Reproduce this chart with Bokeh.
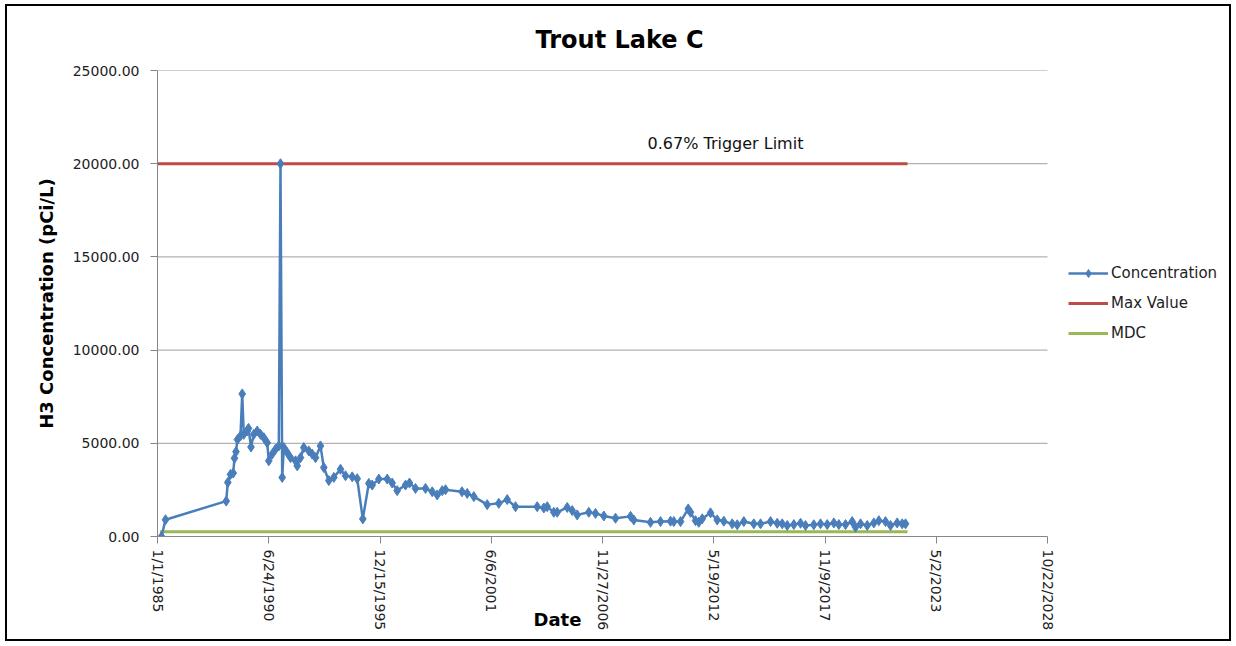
import math
import pandas as pd
from bokeh.plotting import figure
from bokeh.layouts import column
from bokeh.models import (FixedTicker, NumeralTickFormatter, Legend, LegendItem, Label,
                          Range1d, Title)
from bokeh.embed import file_html
from bokeh.resources import INLINE

# ---------------- data ----------------
dates = [
    "1985-03-14", "1985-05-25", "1988-05-20", "1988-06-18", "1988-08-05", "1988-09-23",
    "1988-10-16", "1988-11-12", "1988-12-09", "1989-02-01", "1989-03-04", "1989-04-01",
    "1989-06-02", "1989-06-25", "1989-08-09", "1989-09-28", "1989-11-28", "1990-01-27",
    "1990-03-27", "1990-05-27", "1990-06-25", "1990-08-25", "1990-10-23", "1990-12-22",
    "1991-01-21", "1991-02-21", "1991-03-22", "1991-05-22", "1991-07-20", "1991-10-18",
    "1991-11-18", "1992-01-16", "1992-03-15", "1992-06-13", "1992-08-13", "1992-10-12",
    "1993-01-09", "1993-03-10", "1993-06-08", "1993-09-06", "1994-01-04", "1994-04-04",
    "1994-08-02", "1994-10-31", "1995-02-09", "1995-05-28", "1995-07-28", "1995-11-24",
    "1996-04-23", "1996-07-21", "1996-10-19", "1997-03-18", "1997-05-28", "1997-09-13",
    "1998-03-12", "1998-07-11", "1998-10-08", "1999-01-06", "1999-03-07", "1999-12-28",
    "2000-03-31", "2000-07-28", "2001-03-25", "2001-10-20", "2002-03-20", "2002-08-16",
    "2003-09-10", "2004-01-07", "2004-03-08", "2004-07-05", "2004-09-04", "2005-03-03",
    "2005-06-01", "2005-08-29", "2006-03-26", "2006-07-24", "2006-12-21", "2007-07-19",
    "2008-04-14", "2008-06-12", "2009-04-08", "2009-10-05", "2010-04-03", "2010-06-01",
    "2010-09-30", "2011-02-15", "2011-03-28", "2011-06-26", "2011-08-24", "2011-10-25",
    "2012-03-22", "2012-07-20", "2012-11-16", "2013-04-16", "2013-07-15", "2013-11-11",
    "2014-05-09", "2014-09-07", "2015-03-06", "2015-07-04", "2015-10-02", "2015-12-31",
    "2016-04-28", "2016-08-26", "2016-11-24", "2017-04-22", "2017-08-20", "2017-12-19",
    "2018-04-17", "2018-07-16", "2018-11-13", "2019-03-13", "2019-05-12", "2019-08-10",
    "2019-12-08", "2020-04-05", "2020-07-04", "2020-11-01", "2021-01-30", "2021-05-30",
    "2021-08-28", "2021-10-27",
]
concentration = [
    0, 900, 1900, 2900, 3330, 3400,
    4200, 4550, 5200, 5400, 7650, 5480,
    5660, 5800, 4800, 5480, 5660, 5480,
    5300, 5030, 4060, 4420, 4680, 4860,
    20000, 3170, 4770, 4500, 4230, 4060,
    3790, 4230, 4770, 4590, 4420, 4230,
    4860, 3700, 3000, 3170, 3610, 3260,
    3200, 3100, 945, 2850, 2760, 3080,
    3080, 2870, 2460, 2760, 2870, 2580,
    2580, 2400, 2230, 2460, 2510, 2400,
    2310, 2140, 1710, 1780, 1980, 1600,
    1600, 1530, 1600, 1300, 1300, 1560,
    1390, 1160, 1300, 1240, 1100, 980,
    1080, 890, 760, 800, 820, 800,
    800, 1480, 1300, 850, 760, 950,
    1270, 890, 820, 680, 630, 800,
    680, 680, 800, 710, 680, 590,
    640, 710, 590, 630, 680, 640,
    730, 640, 640, 800, 500, 680,
    590, 730, 850, 800, 590, 730,
    680, 680,
]
max_dates = ["1985-01-01", "2021-12-01"]
max_values = [20000, 20000]
mdc_dates = ["1985-02-15", "2021-12-01"]
mdc_values = [250, 250]

tick_labels = ["1/1/1985", "6/24/1990", "12/15/1995", "6/6/2001", "11/27/2006",
               "5/19/2012", "11/9/2017", "5/2/2023", "10/22/2028"]
tick_days = [0, 2000, 4000, 6000, 8000, 10000, 12000, 14000, 16000]
y_ticks = [0, 5000, 10000, 15000, 20000, 25000]

trigger_text = "0.67% Trigger Limit"
trigger_date = "2012-12-16"
trigger_value = 21100

origin = pd.Timestamp("1985-01-01")
def to_days(ds):
    return [(pd.Timestamp(d) - origin).days for d in ds]

x_conc = to_days(dates)
x_max = to_days(max_dates)
x_mdc = to_days(mdc_dates)

FONT = "DejaVu Sans"
BLUE = "#4A7EBB"
RED = "#BE4B48"
GREEN = "#98B954"
AXIS = "#868686"
GRID = "#A0A0A0"

# figure sits inside a bordered box; plot axes span 0..16000 days, the frame
# continues to the right to host the legend
W, H = 1222, 633
frame_px = 1070           # frame width in px (axis part is 890 px)
x_axis_end = tick_days[-1]
x_end = x_axis_end * frame_px / 890

p = figure(width=W, height=H, output_backend="svg", toolbar_location=None,
           x_range=Range1d(0, x_end), y_range=Range1d(0, 25000),
           min_border_left=150, min_border_right=W - 150 - frame_px, min_border_top=64,
           min_border_bottom=103, background_fill_color="white",
           border_fill_color="white")
p.outline_line_color = None

# title
p.title.text = "Trout Lake C"
p.title.text_font = FONT
p.title.text_font_size = "24px"
p.title.text_font_style = "bold"
p.title.text_color = "black"
p.title.align = "left"
p.title.offset = 378
p.title.standoff = 34

# axes
p.xaxis.ticker = FixedTicker(ticks=tick_days)
p.xaxis.major_label_overrides = {d: l for d, l in zip(tick_days, tick_labels)}
p.xaxis.major_label_orientation = -math.pi / 2
p.xaxis.bounds = (0, x_axis_end)
p.yaxis.ticker = FixedTicker(ticks=y_ticks)
p.yaxis.formatter = NumeralTickFormatter(format="0.00")
for ax in (p.xaxis, p.yaxis):
    ax.axis_line_color = AXIS
    ax.major_tick_line_color = AXIS
    ax.minor_tick_line_color = None
    ax.major_tick_out = 7
    ax.major_tick_in = 0
    ax.major_label_text_font = FONT
    ax.major_label_text_font_size = "14px"
    ax.major_label_text_color = "#222222"
p.xaxis.major_label_standoff = 6
p.yaxis.major_label_standoff = 11
p.yaxis.axis_label = "H3 Concentration (pCi/L)"
p.yaxis.axis_label_text_font = FONT
p.yaxis.axis_label_text_font_size = "18px"
p.yaxis.axis_label_text_font_style = "bold"
p.yaxis.axis_label_text_color = "black"
p.yaxis.axis_label_standoff = 13

date_title = Title(text="Date", align="left", offset=376, standoff=-50,
                   vertical_align="top", text_font=FONT, text_font_size="18px",
                   text_font_style="bold", text_color="black")
p.add_layout(date_title, "below")

# horizontal gridlines limited to the axis extent
p.xgrid.grid_line_color = None
p.ygrid.grid_line_color = None
grid_y = [t for t in y_ticks if t > 0]
p.segment(x0=[0] * len(grid_y), y0=grid_y, x1=[x_axis_end] * len(grid_y), y1=grid_y,
          line_color=GRID, line_width=1)

# series
r_mdc = p.line(x_mdc, mdc_values, line_color=GREEN, line_width=3)
r_max = p.line(x_max, max_values, line_color=RED, line_width=3)
r_line = p.line(x_conc, concentration, line_color=BLUE, line_width=2.5)
r_pts = p.scatter(x_conc, concentration, marker="diamond", size=10,
                  fill_color=BLUE, line_color=BLUE)

p.add_layout(Label(x=(pd.Timestamp(trigger_date) - origin).days, y=trigger_value,
                   text=trigger_text, text_font=FONT, text_font_size="16px",
                   text_align="center", text_baseline="middle", text_color="#111111"))

legend = Legend(items=[
    LegendItem(label="Concentration", renderers=[r_line, r_pts]),
    LegendItem(label="Max Value", renderers=[r_max]),
    LegendItem(label="MDC", renderers=[r_mdc]),
], location=(911, 193), orientation="vertical")
legend.glyph_width = 40
legend.glyph_height = 20
legend.spacing = 10
legend.padding = 0
legend.margin = 0
legend.label_standoff = 3
legend.label_text_font = FONT
legend.label_text_font_size = "15px"
legend.label_text_color = "#222222"
legend.border_line_color = None
legend.background_fill_alpha = 0
p.add_layout(legend, "center")

box = column(p, styles={"border": "2px solid black", "margin-left": "5px",
                        "margin-top": "4px", "width": "fit-content"})

open("out.html", "w").write(file_html(box, INLINE))
